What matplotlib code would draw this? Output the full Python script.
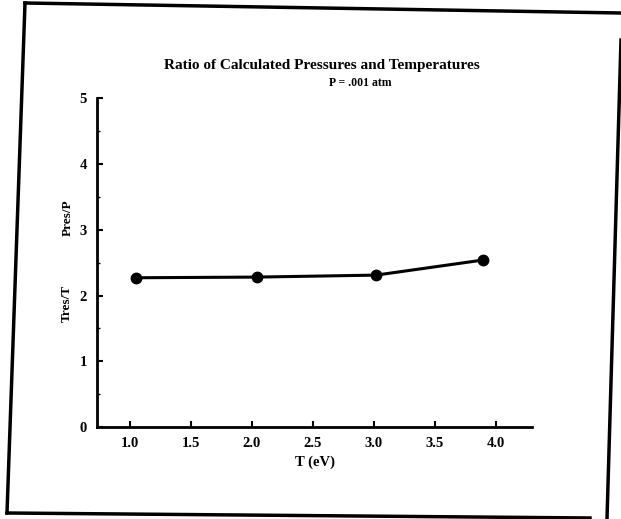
import matplotlib.pyplot as plt
from matplotlib.lines import Line2D
from matplotlib.ticker import MultipleLocator

# 数据
temp_ev = [1.05, 2.04, 3.02, 3.90]
ratio = [2.27, 2.28, 2.31, 2.54]
x_ticks = [1.0, 1.5, 2.0, 2.5, 3.0, 3.5, 4.0]
y_ticks = [0, 1, 2, 3, 4, 5]

plt.rcParams['font.family'] = ['Liberation Serif', 'DejaVu Serif']

fig = plt.figure(figsize=(6.21, 5.19), dpi=100, facecolor='white')
ax = fig.add_axes([0.156, 0.177, 0.701, 0.634])

ax.plot(temp_ev, ratio, color='black', lw=2.2, marker='o', markersize=7.5)

ax.set_xlim(0.73, 4.30)
ax.set_ylim(0, 5)
ax.set_xticks(x_ticks)
ax.set_xticklabels([f'{t:.1f}' for t in x_ticks], fontweight='bold', fontsize=10.5)
ax.set_yticks(y_ticks)
ax.set_yticklabels([str(t) for t in y_ticks], fontweight='bold', fontsize=10.5)
ax.yaxis.set_minor_locator(MultipleLocator(0.5))
ax.tick_params(axis='both', which='major', direction='in', length=4, width=1.5, pad=7)
ax.tick_params(axis='both', which='minor', direction='in', length=2, width=1)

ax.spines['top'].set_visible(False)
ax.spines['right'].set_visible(False)
ax.spines['left'].set_linewidth(2)
ax.spines['bottom'].set_linewidth(2)

ax.set_xlabel('T (eV)', fontweight='bold', fontsize=10.5, labelpad=4)

# 标题
fig.text(322 / 621, 1 - 66 / 519, 'Ratio of Calculated Pressures and Temperatures',
         ha='center', va='center', fontweight='bold', fontsize=11)
fig.text(360 / 621, 1 - 83 / 519, 'P = .001 atm',
         ha='center', va='center', fontweight='bold', fontsize=8.5)

# 纵轴标签
fig.text(68 / 621, 1 - 218 / 519, 'Pres/P', rotation=90, ha='center', va='center',
         fontweight='bold', fontsize=9.5)
fig.text(67 / 621, 1 - 303 / 519, 'Tres/T', rotation=90, ha='center', va='center',
         fontweight='bold', fontsize=9.5)

# 扫描页的外框
W, H = 621, 519
frame = [((25, 3), (621, 13)), ((25, 3), (7, 513)), ((7, 513), (590, 518)),
         ((621, 40), (607, 519))]
for (x0, y0), (x1, y1) in frame:
    fig.add_artist(Line2D([x0 / W, x1 / W], [1 - y0 / H, 1 - y1 / H],
                          transform=fig.transFigure, color='black', lw=2.5))

fig.savefig('out.png', dpi=100, facecolor='white')
